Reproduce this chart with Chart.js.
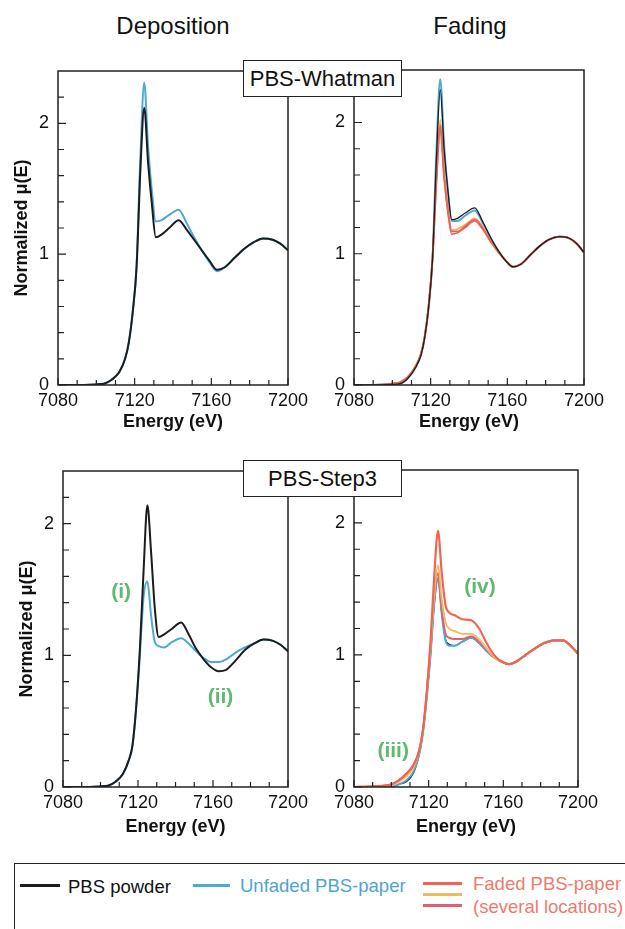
<!DOCTYPE html>
<html>
<head>
<meta charset="utf-8">
<script src="https://cdn.jsdelivr.net/npm/chart.js@4.4.1/dist/chart.umd.min.js"></script>
<style>
  body { margin: 0; width: 625px; height: 929px; position: relative; overflow: hidden; background: #fff;
         font-family: "Liberation Sans", Arial, sans-serif; color: #111; }
  canvas { position: absolute; }
  .head { position: absolute; width: 200px; font-size: 24px; line-height: 24px; text-align: center; top: 14px; }
  .tag { position: absolute; left: 243px; width: 157px; height: 35px; border: 1.5px solid #222; background: #fff;
         font-size: 22px; display: flex; align-items: center; justify-content: center; z-index: 5; }
  .legend { position: absolute; left: 14px; top: 863px; width: 640px; height: 100px; border: 1.5px solid #222; }
  .sw { position: absolute; height: 2.5px; }
  .lt { position: absolute; font-size: 18.5px; line-height: 20px; white-space: nowrap; }
</style>
</head>
<body>
<div class="head" style="left:73px">Deposition</div>
<div class="head" style="left:370px">Fading</div>

<canvas id="tl" width="330" height="400" style="left:0;top:40px"></canvas>
<canvas id="tr" width="325" height="400" style="left:300px;top:40px"></canvas>
<canvas id="bl" width="330" height="420" style="left:0;top:440px"></canvas>
<canvas id="br" width="325" height="420" style="left:300px;top:440px"></canvas>

<div class="tag" style="top:60px">PBS-Whatman</div>
<div class="tag" style="top:460px">PBS-Step3</div>

<div class="legend"></div>
<div class="sw" style="left:20px;top:884px;width:40px;background:#1c1c1c"></div>
<div class="lt" style="left:68px;top:877px">PBS powder</div>
<div class="sw" style="left:193px;top:884px;width:37px;background:#4ea9d6"></div>
<div class="lt" style="left:240px;top:876px;color:#4fa3d0">Unfaded PBS-paper</div>
<div class="sw" style="left:423px;top:882px;width:39px;background:#ef6553"></div>
<div class="sw" style="left:423px;top:893px;width:39px;background:#f4b860"></div>
<div class="sw" style="left:423px;top:904px;width:39px;background:#e2606c"></div>
<div class="lt" style="left:473px;top:874px;color:#ef7a6c">Faded PBS-paper</div>
<div class="lt" style="left:473px;top:897px;color:#ef7a6c">(several locations)</div>

<script>
// energy grid (eV) shared by all spectra
const energy = [7080, 7090, 7100, 7104, 7108, 7112, 7115, 7117, 7119, 7121, 7123, 7125, 7127, 7129, 7131,
                7134, 7138, 7143, 7147, 7151, 7155, 7159, 7163, 7167, 7172, 7177, 7182, 7187, 7192, 7196, 7200];

const xTicks = [7080, 7090, 7100, 7110, 7120, 7130, 7140, 7150, 7160, 7170, 7180, 7190, 7200];
const xLabels = [7080, 7120, 7160, 7200];
const yTicks = [0, 0.2, 0.4, 0.6, 0.8, 1, 1.2, 1.4, 1.6, 1.8, 2, 2.2];
const yLabels = [0, 1, 2];

// PBS-Whatman, deposition
const whatmanPowder   = [0, 0, 0.005, 0.01, 0.04, 0.10, 0.20, 0.33, 0.56, 0.90, 1.65, 2.12, 1.70, 1.38, 1.13,
                         1.15, 1.20, 1.26, 1.19, 1.11, 1.03, 0.95, 0.88, 0.90, 0.97, 1.04, 1.09, 1.12, 1.11, 1.08, 1.03];
const whatmanUnfaded  = [0, 0, 0.005, 0.01, 0.04, 0.10, 0.20, 0.33, 0.56, 0.92, 1.75, 2.31, 1.82, 1.48, 1.25,
                         1.26, 1.30, 1.34, 1.24, 1.13, 1.03, 0.94, 0.87, 0.90, 0.97, 1.04, 1.09, 1.12, 1.11, 1.08, 1.03];

// PBS-Whatman, fading
const whatmanFadePowder  = [0, 0, 0.005, 0.01, 0.05, 0.13, 0.23, 0.37, 0.60, 0.97, 1.72, 2.25, 1.80, 1.48, 1.26,
                            1.27, 1.31, 1.35, 1.25, 1.13, 1.03, 0.95, 0.90, 0.92, 0.99, 1.06, 1.11, 1.13, 1.12, 1.08, 1.01];
const whatmanFadeUnfaded = [0, 0, 0.005, 0.01, 0.05, 0.13, 0.23, 0.37, 0.60, 0.98, 1.78, 2.33, 1.83, 1.48, 1.25,
                            1.25, 1.29, 1.33, 1.24, 1.13, 1.03, 0.95, 0.90, 0.92, 0.99, 1.06, 1.11, 1.13, 1.12, 1.08, 1.01];
const whatmanFadedA = [0, 0, 0.01, 0.02, 0.06, 0.14, 0.24, 0.38, 0.61, 0.97, 1.55, 1.95, 1.58, 1.32, 1.15,
                       1.16, 1.20, 1.25, 1.19, 1.10, 1.02, 0.95, 0.90, 0.92, 0.99, 1.06, 1.11, 1.13, 1.12, 1.08, 1.01];
const whatmanFadedB = [0, 0, 0.01, 0.02, 0.06, 0.14, 0.24, 0.38, 0.61, 0.98, 1.60, 2.02, 1.62, 1.35, 1.18,
                       1.19, 1.22, 1.27, 1.21, 1.11, 1.02, 0.95, 0.90, 0.92, 0.99, 1.06, 1.11, 1.13, 1.12, 1.08, 1.01];
const whatmanFadedC = [0, 0, 0.01, 0.02, 0.06, 0.14, 0.24, 0.38, 0.61, 0.97, 1.57, 1.98, 1.60, 1.33, 1.17,
                       1.17, 1.21, 1.26, 1.20, 1.10, 1.02, 0.95, 0.90, 0.92, 0.99, 1.06, 1.11, 1.13, 1.12, 1.08, 1.01];

// PBS-Step3, deposition
const step3Powder  = [0, 0, 0.005, 0.01, 0.04, 0.10, 0.20, 0.31, 0.60, 1.05, 1.65, 2.14, 1.78, 1.35, 1.14,
                      1.16, 1.20, 1.25, 1.16, 1.05, 0.97, 0.91, 0.88, 0.89, 0.96, 1.04, 1.09, 1.12, 1.11, 1.08, 1.03];
const step3Unfaded = [0, 0, 0.005, 0.01, 0.04, 0.10, 0.20, 0.31, 0.60, 1.00, 1.45, 1.56, 1.30, 1.10, 1.07,
                      1.06, 1.10, 1.13, 1.09, 1.03, 0.98, 0.95, 0.95, 0.97, 1.02, 1.06, 1.09, 1.12, 1.11, 1.08, 1.03];

// PBS-Step3, fading
const step3FadePowder  = [0, 0, 0, 0.02, 0.04, 0.11, 0.25, 0.42, 0.68, 1.00, 1.38, 1.58, 1.32, 1.12, 1.08,
                          1.07, 1.10, 1.13, 1.09, 1.03, 0.98, 0.95, 0.93, 0.95, 1.00, 1.05, 1.09, 1.11, 1.11, 1.07, 1.01];
const step3FadeUnfaded = [0, 0, 0, 0.02, 0.05, 0.12, 0.25, 0.42, 0.68, 1.00, 1.40, 1.58, 1.31, 1.11, 1.07,
                          1.07, 1.10, 1.13, 1.09, 1.03, 0.98, 0.95, 0.93, 0.95, 1.00, 1.05, 1.09, 1.11, 1.11, 1.07, 1.01];
const step3FadedA = [0, 0.005, 0.02, 0.05, 0.10, 0.17, 0.28, 0.44, 0.72, 1.10, 1.60, 1.94, 1.62, 1.38, 1.32,
                     1.30, 1.27, 1.26, 1.20, 1.09, 1.00, 0.95, 0.93, 0.95, 1.00, 1.05, 1.09, 1.11, 1.11, 1.07, 1.01];
const step3FadedB = [0, 0.005, 0.015, 0.04, 0.08, 0.15, 0.27, 0.43, 0.70, 1.05, 1.45, 1.68, 1.42, 1.25, 1.20,
                     1.18, 1.16, 1.16, 1.12, 1.05, 0.98, 0.95, 0.93, 0.95, 1.00, 1.05, 1.09, 1.11, 1.11, 1.07, 1.01];
const step3FadedC = [0, 0.005, 0.02, 0.05, 0.10, 0.17, 0.28, 0.44, 0.72, 1.08, 1.45, 1.62, 1.35, 1.16, 1.13,
                     1.12, 1.12, 1.14, 1.10, 1.04, 0.98, 0.95, 0.93, 0.95, 1.00, 1.05, 1.09, 1.11, 1.11, 1.07, 1.01];

const black = '#1c1c1c', blue = '#4ea9d6', red = '#ef6553', orange = '#f4b860', rose = '#e2606c';
const noteColor = '#5dba6e';

Chart.defaults.font.family = '"Liberation Sans", Arial, sans-serif';
Chart.defaults.color = '#111';

// Chart.js paints dataset 0 on top, so lists below go from top layer to bottom layer
function series(values, color, width) {
    return {
        data: energy.map((e, i) => ({ x: e, y: values[i] })),
        borderColor: color,
        borderWidth: width,
        pointRadius: 0,
        cubicInterpolationMode: 'monotone',
        fill: false
    };
}

function isWhole(v) {
    return Math.abs(v - Math.round(v)) < 1e-6;
}

// box frame, inward ticks and the (i)..(iv) notes
function makeFrame(notes) {
    return {
        id: 'frame',
        afterDatasetsDraw(chart) {
            const { ctx, chartArea: a, scales: { x, y } } = chart;
            ctx.save();
            ctx.strokeStyle = '#222';
            ctx.lineWidth = 1.5;
            ctx.strokeRect(a.left, a.top, a.right - a.left, a.bottom - a.top);
            ctx.lineWidth = 1.2;
            ctx.beginPath();
            x.ticks.forEach(t => {
                const px = x.getPixelForValue(t.value);
                ctx.moveTo(px, a.bottom);
                ctx.lineTo(px, a.bottom - (xLabels.includes(t.value) ? 7 : 5));
            });
            y.ticks.forEach(t => {
                const py = y.getPixelForValue(t.value);
                ctx.moveTo(a.left, py);
                ctx.lineTo(a.left + (isWhole(t.value) ? 8 : 6), py);
            });
            ctx.stroke();
            ctx.fillStyle = noteColor;
            ctx.font = 'bold 21px "Liberation Sans", Arial, sans-serif';
            ctx.textAlign = 'center';
            ctx.textBaseline = 'middle';
            notes.forEach(n => ctx.fillText(n.text, x.getPixelForValue(n.x), y.getPixelForValue(n.y)));
            ctx.restore();
        }
    };
}

function panel(id, datasets, cfg) {
    return new Chart(document.getElementById(id), {
        type: 'line',
        data: { datasets: datasets },
        options: {
            responsive: false,
            animation: false,
            events: [],
            layout: { padding: { top: cfg.top, right: cfg.right, left: 0, bottom: 0 } },
            plugins: { legend: { display: false }, tooltip: { enabled: false } },
            scales: {
                x: {
                    type: 'linear', min: 7080, max: 7200,
                    grid: { display: false, drawTicks: false },
                    border: { display: false },
                    afterBuildTicks: s => { s.ticks = xTicks.map(v => ({ value: v })); },
                    ticks: {
                        autoSkip: false, maxRotation: 0, padding: 5, font: { size: 18 },
                        callback: v => xLabels.includes(v) ? String(v) : ''
                    },
                    title: {
                        display: true, text: 'Energy (eV)', font: { size: 18, weight: 'bold' },
                        padding: { top: 0, bottom: cfg.xTitlePad }
                    },
                    afterFit: s => { s.height = cfg.xh; s.paddingLeft = 0; s.paddingRight = 0; }
                },
                y: {
                    min: 0, max: 2.4,
                    grid: { display: false, drawTicks: false },
                    border: { display: false },
                    afterBuildTicks: s => { s.ticks = yTicks.map(v => ({ value: v })); },
                    ticks: {
                        autoSkip: false, padding: 9, font: { size: 18 },
                        callback: v => yLabels.some(l => Math.abs(l - v) < 1e-6) ? String(Math.round(v)) : ''
                    },
                    title: {
                        display: cfg.yTitle, text: 'Normalized μ(E)', font: { size: 18, weight: 'bold' },
                        padding: { top: cfg.yTitlePad, bottom: 0 }
                    },
                    afterFit: s => { s.width = cfg.yw; s.paddingTop = 0; s.paddingBottom = 0; }
                }
            }
        },
        plugins: [makeFrame(cfg.notes || [])]
    });
}

panel('tl', [
    series(whatmanPowder, black, 2),
    series(whatmanUnfaded, blue, 2)
], { top: 31, right: 42, yw: 58, xh: 55, xTitlePad: 7, yTitle: true, yTitlePad: 11 });

panel('tr', [
    series(whatmanFadePowder, black, 1.3),
    series(whatmanFadedA, red, 1.8),
    series(whatmanFadedC, rose, 1.8),
    series(whatmanFadedB, orange, 1.8),
    series(whatmanFadeUnfaded, blue, 2)
], { top: 30, right: 41, yw: 54, xh: 55, xTitlePad: 7, yTitle: false, yTitlePad: 0 });

panel('bl', [
    series(step3Powder, black, 2),
    series(step3Unfaded, blue, 2)
], { top: 31, right: 42, yw: 63, xh: 73, xTitlePad: 22, yTitle: true, yTitlePad: 16,
     notes: [{ text: '(i)', x: 7111, y: 1.48 }, { text: '(ii)', x: 7164, y: 0.68 }] });

panel('br', [
    series(step3FadedA, red, 2.2),
    series(step3FadedB, orange, 1.8),
    series(step3FadedC, rose, 2),
    series(step3FadeUnfaded, blue, 2),
    series(step3FadePowder, black, 1.3)
], { top: 30, right: 47, yw: 54, xh: 73, xTitlePad: 22, yTitle: false, yTitlePad: 0,
     notes: [{ text: '(iii)', x: 7101, y: 0.27 }, { text: '(iv)', x: 7147.5, y: 1.51 }] });
</script>
</body>
</html>
